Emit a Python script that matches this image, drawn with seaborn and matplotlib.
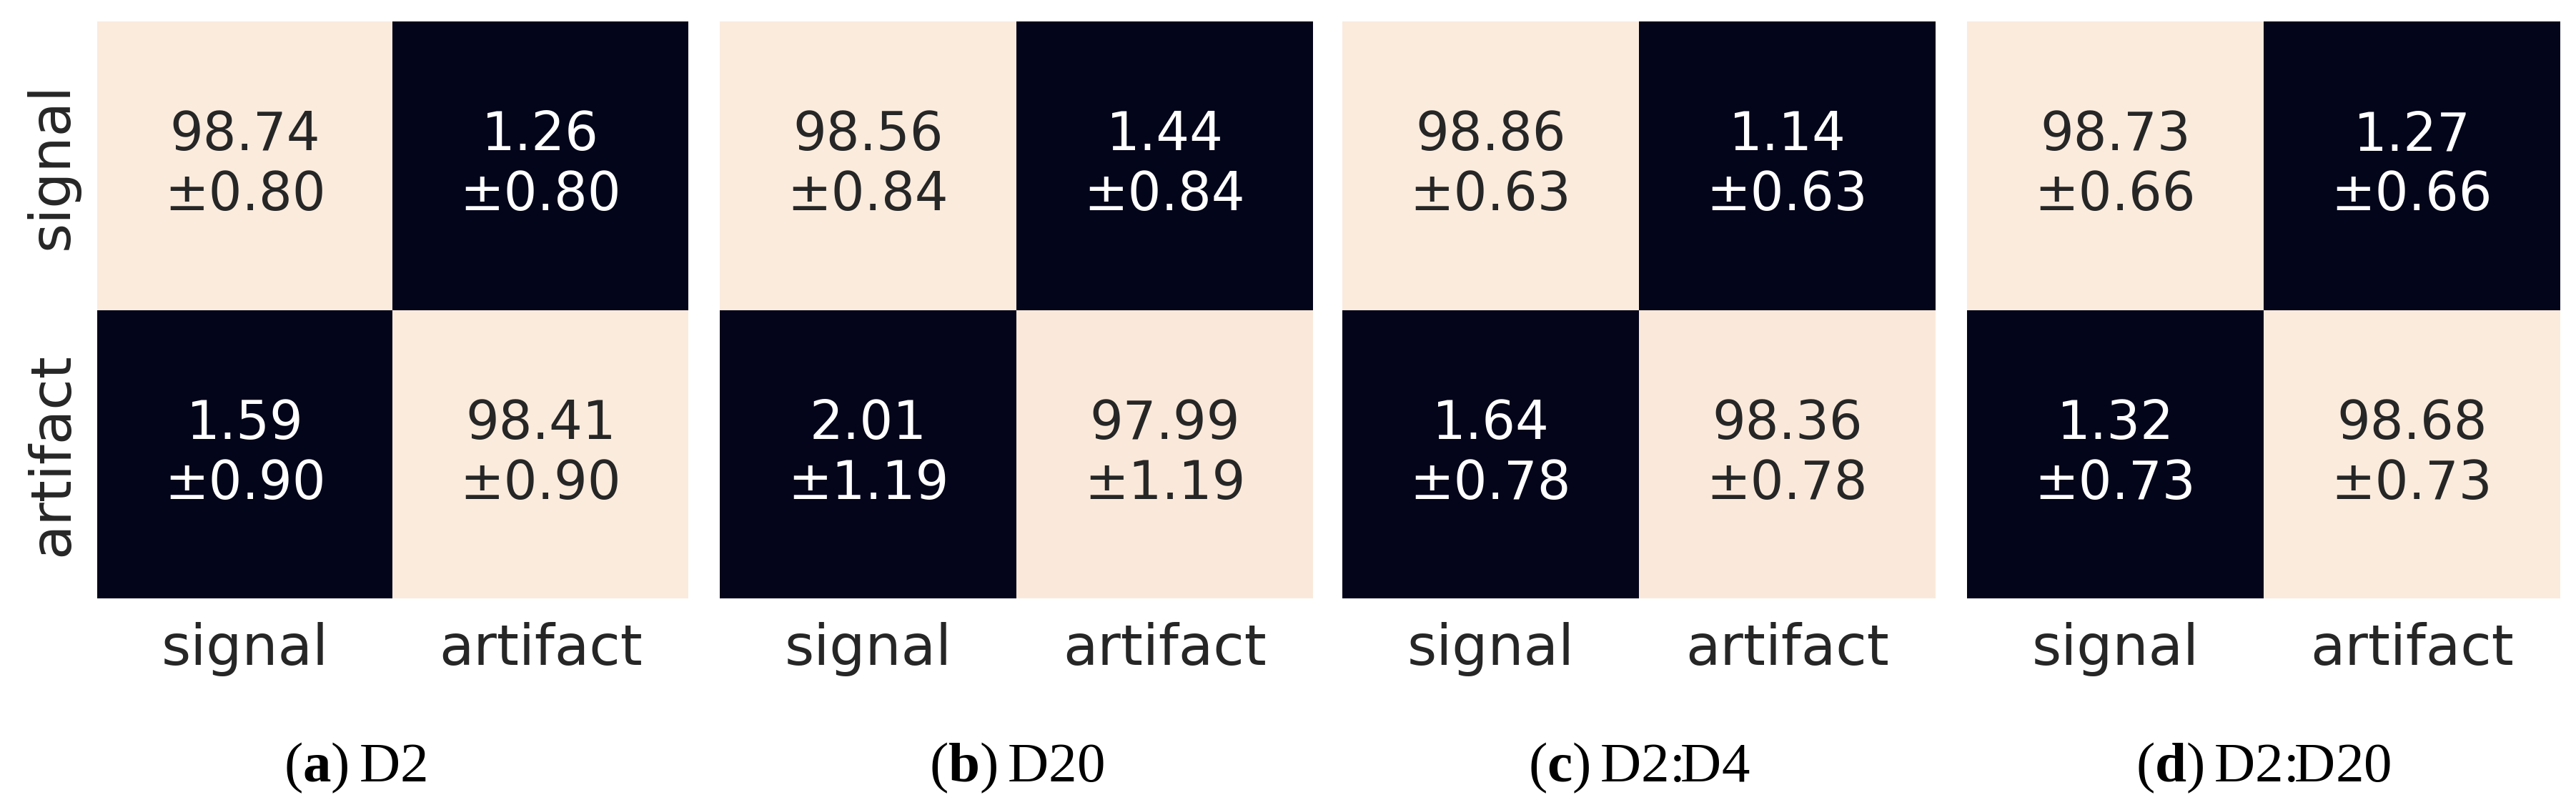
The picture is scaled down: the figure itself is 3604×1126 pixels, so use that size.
import numpy as np
import matplotlib
matplotlib.use("Agg")
import matplotlib.pyplot as plt
import seaborn as sns

# Class names and datasets
classes = ["signal", "artifact"]
letters = ["a", "b", "c", "d"]
datasets = ["D2", "D20", "D2:D4", "D2:D20"]

# Confusion matrices (percent), mean and std over folds
d2_mean = [[98.74, 1.26], [1.59, 98.41]]
d2_std = [[0.80, 0.80], [0.90, 0.90]]
d20_mean = [[98.56, 1.44], [2.01, 97.99]]
d20_std = [[0.84, 0.84], [1.19, 1.19]]
d2d4_mean = [[98.86, 1.14], [1.64, 98.36]]
d2d4_std = [[0.63, 0.63], [0.78, 0.78]]
d2d20_mean = [[98.73, 1.27], [1.32, 98.68]]
d2d20_std = [[0.66, 0.66], [0.73, 0.73]]

means = [d2_mean, d20_mean, d2d4_mean, d2d20_mean]
stds = [d2_std, d20_std, d2d4_std, d2d20_std]

sns.set_theme(style="white")
plt.rcParams["font.family"] = ["DejaVu Sans"]
plt.rcParams["mathtext.fontset"] = "custom"
plt.rcParams["mathtext.rm"] = "Liberation Serif"
plt.rcParams["mathtext.bf"] = "Liberation Serif:bold"

W, H = 3605, 1126
fig = plt.figure(figsize=(W / 100, H / 100), dpi=100)

# axes boxes in pixels: left, right; shared top / bottom
boxes = [(136, 963), (1007, 1837), (1878, 2708), (2752, 3582)]
top, bottom = 30, 837

for i, (m, s) in enumerate(zip(means, stds)):
    left, right = boxes[i]
    ax = fig.add_axes([left / W, 1 - bottom / H, (right - left) / W, (bottom - top) / H])
    m = np.array(m)
    s = np.array(s)
    labels = np.array([[f"{m[r, c]:.2f}\n±{s[r, c]:.2f}" for c in range(2)] for r in range(2)])
    sns.heatmap(m, annot=labels, fmt="", cbar=False, ax=ax,
                xticklabels=classes, yticklabels=classes if i == 0 else False,
                annot_kws={"size": 53})
    ax.tick_params(axis="x", labelsize=57, length=0, pad=24, rotation=0)
    ax.tick_params(axis="y", labelsize=57, length=0, pad=18)
    if i == 0:
        for t in ax.get_yticklabels():
            t.set_rotation(90)
            t.set_va("center")
        cx = (30 + right) / 2
    else:
        cx = (left + right) / 2
    fig.text(cx / W, 1 - 1093 / H, rf"($\mathbf{{{letters[i]}}}$)$\,$" + datasets[i],
             ha="center", va="baseline", fontsize=57, family="Liberation Serif",
             color="black")

fig.savefig("out.png", dpi=100)
